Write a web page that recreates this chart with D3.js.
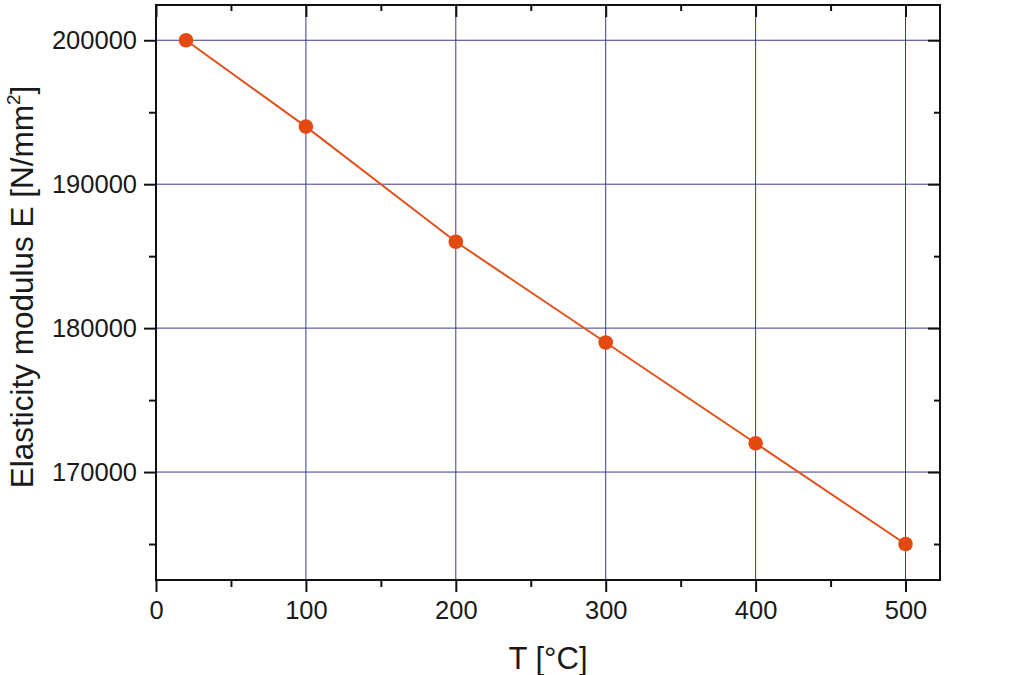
<!DOCTYPE html>
<html><head><meta charset="utf-8">
<script src="https://cdn.jsdelivr.net/npm/d3@7"></script>
<style>
html,body{margin:0;padding:0;background:#fff;}
svg{display:block;font-family:"Liberation Sans",Arial,sans-serif;}
</style></head>
<body><svg id="c" width="1013" height="675"></svg>
<script>
const temperatures = [20, 100, 200, 300, 400, 500];
const modulus = [200000, 194000, 186000, 179000, 172000, 165000];
const xMajorTicks = [0, 100, 200, 300, 400, 500];
const xMinorTicks = [50, 150, 250, 350, 450];
const yMajorTicks = [170000, 180000, 190000, 200000];
const yMinorTicks = [165000, 175000, 185000, 195000];
const xTitle = "T [°C]";
const yTitle = "Elasticity modulus E [N/mm";

const svg = d3.select("#c");
const L = 156, R = 940, T = 5, B = 580;
const x = d3.scaleLinear().domain([0, 523]).range([L, R]);
const y = d3.scaleLinear().domain([162500, 202450]).range([B, T]);

const gridColor = "#3a3a8c";
svg.append("g").selectAll("line").data(xMajorTicks.filter(d => d > 0)).join("line")
  .attr("x1", d => x(d)).attr("x2", d => x(d)).attr("y1", T).attr("y2", B)
  .attr("stroke", gridColor).attr("stroke-width", 1);
svg.append("g").selectAll("line").data(yMajorTicks).join("line")
  .attr("x1", L).attr("x2", R).attr("y1", d => y(d)).attr("y2", d => y(d))
  .attr("stroke", gridColor).attr("stroke-width", 1);

const fmt = d3.format("d");
svg.append("g").attr("transform", `translate(0,${B})`)
  .call(d3.axisBottom(x).tickValues(xMajorTicks).tickFormat(fmt).tickSize(12).tickPadding(9));
svg.append("g").attr("transform", `translate(0,${B})`)
  .call(d3.axisBottom(x).tickValues(xMinorTicks).tickFormat("").tickSize(7));
svg.append("g").attr("transform", `translate(${L},0)`)
  .call(d3.axisLeft(y).tickValues(yMajorTicks).tickFormat(fmt).tickSize(12).tickPadding(7));
svg.append("g").attr("transform", `translate(${L},0)`)
  .call(d3.axisLeft(y).tickValues(yMinorTicks).tickFormat("").tickSize(7));
svg.append("g").attr("transform", `translate(0,${T})`)
  .call(d3.axisTop(x).tickValues(xMajorTicks).tickFormat("").tickSize(-12));
svg.append("g").attr("transform", `translate(0,${T})`)
  .call(d3.axisTop(x).tickValues(xMinorTicks).tickFormat("").tickSize(-6));
svg.append("g").attr("transform", `translate(${R},0)`)
  .call(d3.axisRight(y).tickValues(yMajorTicks).tickFormat("").tickSize(-12));
svg.append("g").attr("transform", `translate(${R},0)`)
  .call(d3.axisRight(y).tickValues(yMinorTicks).tickFormat("").tickSize(-6));

svg.selectAll(".domain").remove();
svg.selectAll(".tick line").attr("stroke", "#111").attr("stroke-width", 2);
svg.selectAll(".tick text").attr("font-size", 25.5).attr("fill", "#1a1a1a")
  .attr("font-family", "'Liberation Sans', Arial, sans-serif");

svg.append("rect").attr("x", L).attr("y", T).attr("width", R - L).attr("height", B - T)
  .attr("fill", "none").attr("stroke", "#111").attr("stroke-width", 2);

const pts = temperatures.map((t, i) => [t, modulus[i]]);
svg.append("path").datum(pts)
  .attr("d", d3.line().x(d => x(d[0])).y(d => y(d[1])))
  .attr("fill", "none").attr("stroke", "#e0521c").attr("stroke-width", 2);
svg.append("g").selectAll("circle").data(pts).join("circle")
  .attr("cx", d => x(d[0])).attr("cy", d => y(d[1])).attr("r", 7.3)
  .attr("fill", "#e24a12");

svg.append("text").attr("x", 548).attr("y", 669).attr("text-anchor", "middle")
  .attr("font-size", 31).attr("fill", "#1a1a1a").text(xTitle);
const yt = svg.append("text").attr("transform", "translate(33,287) rotate(-90)")
  .attr("text-anchor", "middle").attr("font-size", 31.5).attr("fill", "#1a1a1a");
yt.append("tspan").text(yTitle);
yt.append("tspan").attr("font-size", 19).attr("dy", -13).text("2");
yt.append("tspan").attr("dy", 13).text("]");
</script></body></html>
